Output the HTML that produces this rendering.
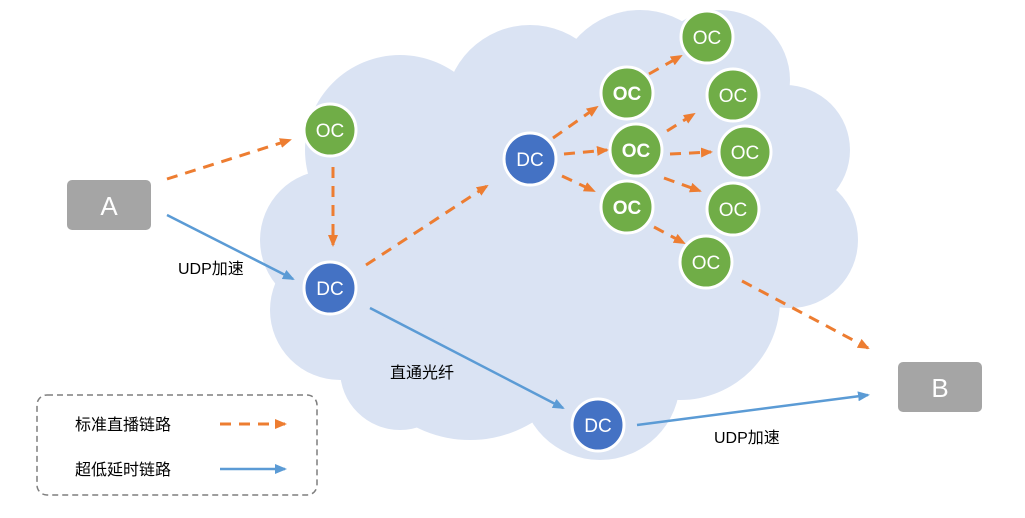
<!DOCTYPE html>
<html><head><meta charset="utf-8"><style>
body{margin:0;background:#fff}
svg{display:block;font-family:"Liberation Sans","Noto Sans CJK SC",sans-serif}
</style></head><body>
<svg width="1025" height="518" viewBox="0 0 1025 518">
<defs>
<marker id="ao" markerWidth="12" markerHeight="10" refX="10" refY="5" orient="auto" markerUnits="userSpaceOnUse"><path d="M0,0 L12,5 L0,10z" fill="#ed7d31"/></marker>
<marker id="ab" markerWidth="12" markerHeight="10" refX="10" refY="5" orient="auto" markerUnits="userSpaceOnUse"><path d="M0,0 L12,5 L0,10z" fill="#5b9bd5"/></marker>
</defs>
<g fill="#dae3f3">
<circle cx="400" cy="150" r="95"/>
<circle cx="330" cy="240" r="70"/>
<circle cx="340" cy="310" r="70"/>
<circle cx="470" cy="320" r="120"/>
<circle cx="530" cy="110" r="85"/>
<circle cx="640" cy="95" r="85"/>
<circle cx="720" cy="80" r="70"/>
<circle cx="785" cy="150" r="65"/>
<circle cx="790" cy="240" r="68"/>
<circle cx="680" cy="300" r="100"/>
<circle cx="600" cy="380" r="80"/>
<circle cx="560" cy="230" r="150"/>
<circle cx="720" cy="190" r="85"/>
<circle cx="400" cy="370" r="60"/>
</g>
<g stroke="#ed7d31" stroke-width="3" stroke-dasharray="11,8" fill="none" marker-end="url(#ao)">
<line x1="167" y1="179" x2="290" y2="140"/>
<line x1="333" y1="167" x2="333" y2="245"/>
<line x1="366" y1="265" x2="487" y2="186"/>
<line x1="553" y1="138" x2="597" y2="107"/>
<line x1="564" y1="154" x2="607" y2="150"/>
<line x1="562" y1="176" x2="594" y2="191"/>
<line x1="649" y1="74" x2="681" y2="56"/>
<line x1="667" y1="131" x2="694" y2="114"/>
<line x1="670" y1="154" x2="711" y2="152"/>
<line x1="664" y1="178" x2="700" y2="191"/>
<line x1="654" y1="227" x2="684" y2="243"/>
<line x1="742" y1="281" x2="868" y2="348"/>
</g>
<g stroke="#5b9bd5" stroke-width="2.5" fill="none" marker-end="url(#ab)">
<line x1="167" y1="215" x2="293" y2="279"/>
<line x1="370" y1="308" x2="563" y2="408"/>
<line x1="637" y1="425" x2="868" y2="395"/>
</g>
<g stroke="#fff" stroke-width="3">
<circle cx="330" cy="130" r="26" fill="#70ad47"/>
<circle cx="707" cy="37" r="26" fill="#70ad47"/>
<circle cx="627" cy="93" r="26" fill="#70ad47"/>
<circle cx="733" cy="95" r="26" fill="#70ad47"/>
<circle cx="636" cy="150" r="26" fill="#70ad47"/>
<circle cx="745" cy="152" r="26" fill="#70ad47"/>
<circle cx="627" cy="207" r="26" fill="#70ad47"/>
<circle cx="733" cy="209" r="26" fill="#70ad47"/>
<circle cx="706" cy="262" r="26" fill="#70ad47"/>
<circle cx="530" cy="159" r="26" fill="#4472c4"/>
<circle cx="330" cy="288" r="26" fill="#4472c4"/>
<circle cx="598" cy="425" r="26" fill="#4472c4"/>
</g>
<g fill="#fff" font-size="19" text-anchor="middle">
<text x="330" y="137">OC</text>
<text x="707" y="44">OC</text>
<text x="627" y="100" font-weight="bold">OC</text>
<text x="733" y="102">OC</text>
<text x="636" y="157" font-weight="bold">OC</text>
<text x="745" y="159">OC</text>
<text x="627" y="214" font-weight="bold">OC</text>
<text x="733" y="216">OC</text>
<text x="706" y="269">OC</text>
<text x="530" y="166">DC</text>
<text x="330" y="295">DC</text>
<text x="598" y="432">DC</text>
</g>
<rect x="67" y="180" width="84" height="50" rx="5" fill="#a5a5a5"/>
<text x="109" y="215" fill="#fff" font-size="26" text-anchor="middle">A</text>
<rect x="898" y="362" width="84" height="50" rx="5" fill="#a5a5a5"/>
<text x="940" y="397" fill="#fff" font-size="26" text-anchor="middle">B</text>
<g font-size="16" fill="#000">
<text x="178" y="274">UDP加速</text>
<text x="390" y="378">直通光纤</text>
<text x="714" y="443">UDP加速</text>
</g>
<rect x="37" y="395" width="280" height="100" rx="10" fill="none" stroke="#7f7f7f" stroke-width="1.5" stroke-dasharray="6,4"/>
<text x="75" y="430" font-size="16">标准直播链路</text>
<text x="75" y="475" font-size="16">超低延时链路</text>
<line x1="220" y1="424" x2="285" y2="424" stroke="#ed7d31" stroke-width="3" stroke-dasharray="11,8" marker-end="url(#ao)"/>
<line x1="220" y1="469" x2="285" y2="469" stroke="#5b9bd5" stroke-width="2.5" marker-end="url(#ab)"/>
</svg>
</body></html>
